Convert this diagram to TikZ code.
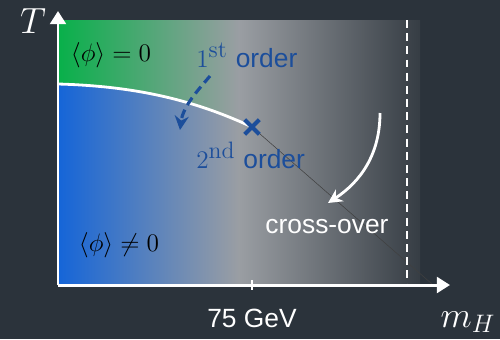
\documentclass[tikz,border=0pt]{standalone}
\usepackage{fontspec}
\newfontfamily\sansf{Liberation Sans}
\usetikzlibrary{arrows.meta}
\definecolor{bg}{HTML}{2B333B}
\definecolor{blueL}{HTML}{1565D8}
\definecolor{greenL}{HTML}{08B04A}
\definecolor{grayM}{HTML}{9A9EA3}
\definecolor{darkR}{HTML}{363D44}
\definecolor{blueT}{HTML}{1C4E9B}
\newcommand{\supx}[1]{\hbox{\fontsize{13.5}{15}\selectfont #1}}
\tikzset{
  axis/.style={white, line width=1.7pt, -{Triangle[length=7.5pt,width=9pt]}},
  lbl/.style={font=\fontsize{15}{18}\selectfont, inner sep=0pt},
  ord/.style={lbl, text=blueT},
  big/.style={white, font=\fontsize{21}{24}\selectfont, inner sep=0pt},
}
\begin{document}
\begin{tikzpicture}[x=0.02cm,y=-0.02cm]
\fill[bg] (0,0) rectangle (500,339);
\useasboundingbox (0,0) rectangle (500,339);
\shade[left color=blueL, right color=darkR, middle color=grayM] (58,20) rectangle (420,285);
\begin{scope}
\clip (58,20) -- (58,84) .. controls (130,86) and (190,98) .. (252,127) -- (420,270) -- (420,20) -- cycle;
\shade[left color=greenL, right color=darkR, middle color=grayM] (58,20) rectangle (420,285);
\end{scope}
% nodes
\coordinate (O) at (58,285);
\coordinate (Ytop) at (58,11);
\coordinate (Xend) at (450,285);
\coordinate (C0) at (58,84);
\coordinate (Lend) at (432,284);
\coordinate (Tk1) at (252,280);
\coordinate (Tk2) at (252,290);
\coordinate (D1) at (407,20);
\coordinate (D2) at (407,285);
\node[inner sep=0pt, minimum size=14*0.02cm] (X) at (252,127) {};
% crossover line
\draw[black!75, line width=0.3pt] (X.center) -- (Lend);
% boundary curve
\draw[white, line width=1.6pt] (C0) .. controls (130,86) and (190,98) .. (X.center);
% X mark
\draw[blueT, line width=2.3pt] (X.north west) -- (X.south east) (X.south west) -- (X.north east);
% dashed vertical line
\draw[white, line width=1.5pt, dash pattern=on 4.5pt off 3pt] (D1) -- (D2);
% axes
\draw[axis] (O) -- (Ytop);
\draw[axis] (O) -- (Xend);
\draw[white, line width=1.5pt] (Tk1) -- (Tk2);
% arrows
\coordinate (B1) at (210,76);
\coordinate (B2) at (180,130);
\draw[blueT, line width=1.8pt, dash pattern=on 5pt off 3pt, -{Stealth[length=8pt,width=8pt]}] (B1) .. controls (199,89) and (183,106) .. (B2);
\coordinate (W1) at (380,113);
\coordinate (W2) at (328,203);
\draw[white, line width=1.6pt, -{Stealth[length=8pt,width=8pt]}] (W1) .. controls (380,155) and (360,182) .. (W2);
% labels
\node[lbl] (p0) at (111,55) {$\langle\phi\rangle = 0$};
\node[lbl] (p1) at (119,245) {$\langle\phi\rangle \neq 0$};
\node[ord, anchor=base west] (o1) at (196,67) {$1^{\supx{st}}$ {\sansf order}};
\node[ord, anchor=base west] (o2) at (196,168) {$2^{\supx{nd}}$ {\sansf order}};
\node[lbl, text=white] (co) at (327,227) {\sansf cross-over};
\node[lbl, text=white] (gev) at (252,318) {\sansf 75 GeV};
\node[big] (T) at (33,21) {$T$};
\node[big] (mH) at (468,322) {$m_H$};
\end{tikzpicture}
\end{document}
